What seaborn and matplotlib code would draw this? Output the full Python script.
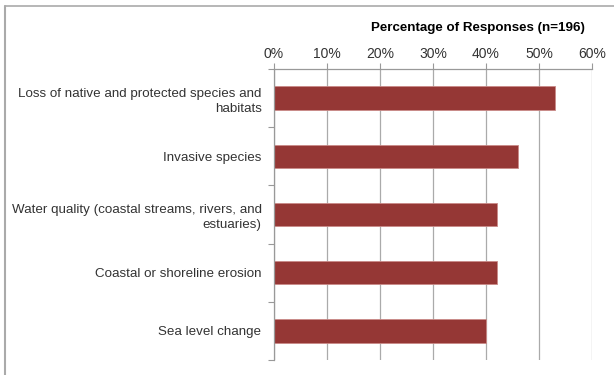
import matplotlib
matplotlib.use("Agg")
import matplotlib.pyplot as plt
import seaborn as sns
import pandas as pd
import numpy as np
from matplotlib.ticker import FixedLocator

categories = [
    "Loss of native and protected species and\nhabitats",
    "Invasive species",
    "Water quality (coastal streams, rivers, and\nestuaries)",
    "Coastal or shoreline erosion",
    "Sea level change",
]
values = [53.0, 46.0, 42.0, 42.0, 40.0]
xticks = [0, 10, 20, 30, 40, 50, 60]
xticklabels = ["0%", "10%", "20%", "30%", "40%", "50%", "60%"]
title = "Percentage of Responses (n=196)"

sns.set_theme(style="white")
plt.rcParams['font.family'] = ['Liberation Sans', 'DejaVu Sans']

df = pd.DataFrame({"cat": categories, "val": values})

fig = plt.figure(figsize=(6.14, 3.75), dpi=100)
W, H = 614, 375
ax = fig.add_axes([274 / W, 1 - 360 / H, (592 - 274) / W, (360 - 69) / H])

sns.barplot(data=df, y="cat", x="val", orient="h", color="#953735",
            width=0.4, ax=ax, edgecolor="#c98a88", linewidth=0.6, saturation=1)

ax.set_xlim(0, 60)
ax.set_ylim(4.5, -0.5)
ax.xaxis.tick_top()
ax.set_xticks(xticks)
ax.set_xticklabels(xticklabels, fontsize=10, color="#333333")
ax.tick_params(axis="x", which="major", length=4, width=0.8, color="#999999", pad=2, top=True, bottom=False)
ax.grid(axis="x", color="#aaaaaa", linewidth=0.9)
ax.set_axisbelow(True)

ax.set_yticks(range(len(categories)))
ax.set_yticklabels(categories, fontsize=9.6, color="#333333")
ax.tick_params(axis="y", which="major", length=0, pad=9)
ax.yaxis.set_minor_locator(FixedLocator(np.arange(-0.5, len(categories), 1.0)))
ax.tick_params(axis="y", which="minor", length=4, width=0.8, color="#999999", left=True)
for lab in ax.get_yticklabels():
    lab.set_horizontalalignment("right")
    lab.set_multialignment("right")
    lab.set_linespacing(1.35)

ax.set_xlabel("")
ax.set_ylabel("")
for s in ["right", "bottom"]:
    ax.spines[s].set_visible(False)
for s in ["left", "top"]:
    ax.spines[s].set_visible(True)
    ax.spines[s].set_color("#999999")
    ax.spines[s].set_linewidth(0.9)

fig.text(585 / W, 1 - 28 / H, title, ha="right", va="center",
         fontsize=9.6, fontweight="bold", color="black")

# frame lines (top and left border)
fig.add_artist(plt.Line2D([4.5 / W, 1.0], [1 - 6 / H, 1 - 6 / H], color="#aaaaaa", linewidth=1.2, transform=fig.transFigure))
fig.add_artist(plt.Line2D([4.5 / W, 4.5 / W], [0, 1 - 6 / H], color="#aaaaaa", linewidth=1.5, transform=fig.transFigure))

fig.savefig("out.png", dpi=100)
